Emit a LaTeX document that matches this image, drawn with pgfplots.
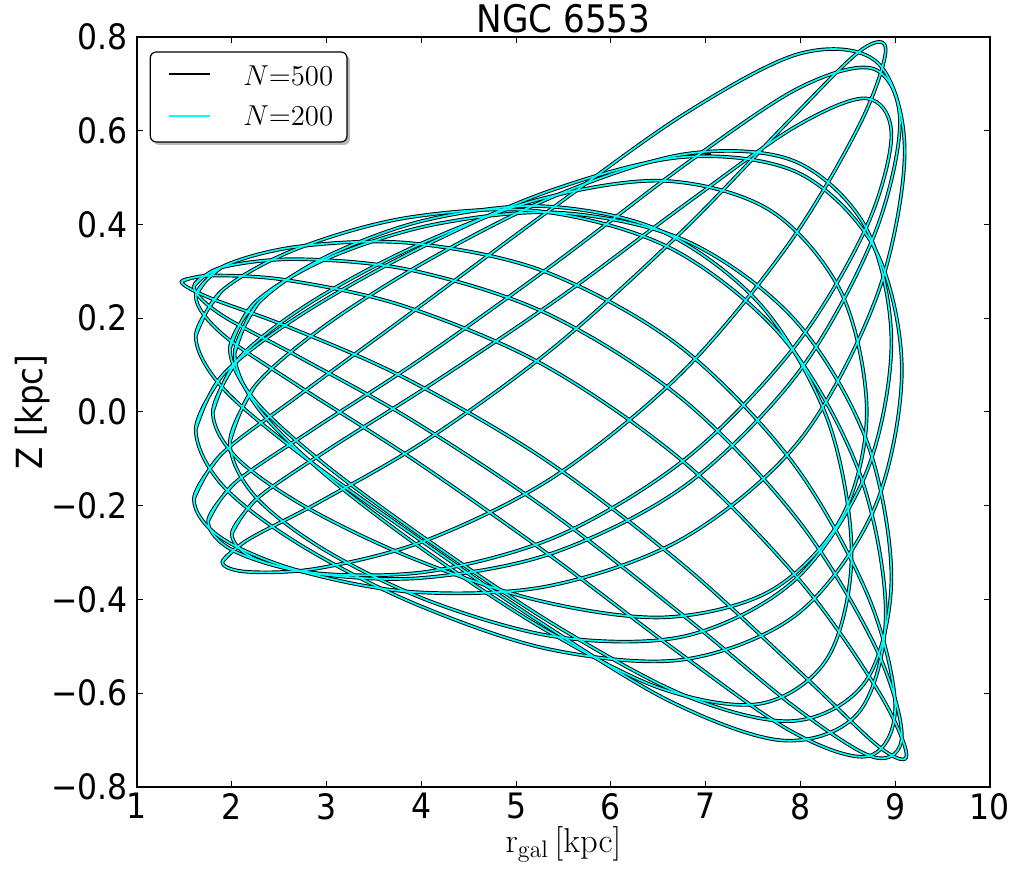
\documentclass[border=0pt]{standalone}
\usepackage{pgfplots}
\pgfplotsset{compat=1.18}
\usepackage{pgfplotstable}
\usepackage[no-math]{fontspec}
\setmainfont{DejaVu Sans Condensed}
\definecolor{orbcyan}{RGB}{0,255,255}
\begin{document}
\pgfplotstableread{
x y
1.470 0.278
1.761 0.291
2.590 0.281
3.831 0.225
5.295 0.100
6.759 -0.105
8.000 -0.361
8.829 -0.598
9.120 -0.732
8.829 -0.714
8.000 -0.556
6.759 -0.326
5.295 -0.100
3.831 0.072
2.590 0.182
1.761 0.244
1.470 0.278
1.761 0.291
}\loopA
\pgfplotstableread{
x y
1.600 0.268
1.884 0.308
2.694 0.326
3.906 0.302
5.335 0.209
6.764 0.026
7.976 -0.231
8.786 -0.499
9.070 -0.689
8.786 -0.737
7.976 -0.635
6.764 -0.434
5.335 -0.209
3.906 -0.018
2.694 0.119
1.884 0.208
1.600 0.268
1.884 0.308
}\loopB
\pgfplotstableread{
x y
1.620 0.247
1.901 0.310
2.701 0.353
3.898 0.360
5.310 0.299
6.722 0.141
7.919 -0.108
8.719 -0.395
9.000 -0.630
8.719 -0.734
7.919 -0.683
6.722 -0.514
5.310 -0.299
3.898 -0.099
2.701 0.056
1.901 0.166
1.620 0.247
1.901 0.310
}\loopC
\pgfplotstableread{
x y
1.620 0.162
1.897 0.259
2.686 0.348
3.867 0.415
5.260 0.428
6.653 0.347
7.834 0.154
8.623 -0.130
8.900 -0.428
8.623 -0.639
7.834 -0.701
6.653 -0.620
5.260 -0.449
3.867 -0.256
2.686 -0.084
1.897 0.053
1.620 0.162
1.897 0.259
}\loopD
\pgfplotstableread{
x y
1.980 0.135
2.246 0.234
3.002 0.327
4.134 0.400
5.470 0.425
6.806 0.364
7.938 0.197
8.694 -0.059
8.960 -0.352
8.694 -0.573
7.938 -0.659
6.806 -0.607
5.470 -0.462
4.134 -0.283
3.002 -0.115
2.246 0.024
1.980 0.135
2.246 0.234
}\loopE
\pgfplotstableread{
x y
2.030 0.125
2.278 0.232
2.983 0.330
4.039 0.409
5.285 0.439
6.531 0.386
7.587 0.227
8.292 -0.019
8.540 -0.301
8.292 -0.523
7.587 -0.622
6.531 -0.590
5.285 -0.462
4.039 -0.296
2.983 -0.133
2.278 0.008
2.030 0.125
2.278 0.232
}\loopF
\pgfplotstableread{
x y
1.620 -0.037
1.904 0.079
2.711 0.205
3.919 0.343
5.345 0.471
6.771 0.544
7.979 0.510
8.786 0.348
9.070 0.089
8.786 -0.203
7.979 -0.429
6.771 -0.528
5.345 -0.506
3.919 -0.408
2.711 -0.282
1.904 -0.157
1.620 -0.037
1.904 0.079
}\loopG
\pgfplotstableread{
x y
1.980 -0.064
2.246 0.056
3.002 0.187
4.134 0.331
5.470 0.466
6.806 0.551
7.938 0.535
8.694 0.392
8.960 0.148
8.694 -0.130
7.938 -0.359
6.806 -0.477
5.470 -0.481
4.134 -0.407
3.002 -0.297
2.246 -0.180
1.980 -0.064
2.246 0.056
}\loopH
\pgfplotstableread{
x y
1.800 0.000
2.063 0.112
2.811 0.231
3.930 0.353
5.250 0.454
6.570 0.493
7.689 0.429
8.437 0.252
8.700 0.000
8.437 -0.224
7.689 -0.381
6.570 -0.438
5.250 -0.403
3.930 -0.314
2.811 -0.206
2.063 -0.100
1.800 0.000
2.063 0.112
}\loopI
\pgfplotstableread{
x y
1.600 -0.186
1.885 -0.091
2.698 0.034
3.915 0.215
5.350 0.430
6.785 0.637
8.002 0.765
8.815 0.745
9.100 0.556
8.815 0.252
8.002 -0.058
6.785 -0.267
5.350 -0.371
3.915 -0.384
2.698 -0.338
1.885 -0.268
1.600 -0.186
1.885 -0.091
}\loopJ
\pgfplotstableread{
x y
1.750 -0.233
2.028 -0.152
2.819 -0.042
4.003 0.114
5.400 0.316
6.797 0.530
7.981 0.691
8.772 0.732
9.050 0.617
8.772 0.374
7.981 0.085
6.797 -0.155
5.400 -0.300
4.003 -0.354
2.819 -0.343
2.028 -0.297
1.750 -0.233
2.028 -0.152
}\loopK
\pgfplotstableread{
x y
2.000 -0.260
2.265 -0.185
3.019 -0.080
4.148 0.065
5.480 0.247
6.812 0.447
7.941 0.608
8.695 0.669
8.960 0.591
8.695 0.394
7.941 0.140
6.812 -0.096
5.480 -0.261
4.148 -0.338
3.019 -0.346
2.265 -0.315
2.000 -0.260
2.265 -0.185
}\loopL
\pgfplotstableread{
x y
1.900 -0.320
2.166 -0.273
2.925 -0.192
4.061 -0.059
5.400 0.138
6.739 0.383
7.875 0.620
8.634 0.771
8.900 0.773
8.634 0.617
7.875 0.358
6.739 0.082
5.400 -0.138
4.061 -0.273
2.925 -0.333
2.166 -0.341
1.900 -0.320
2.166 -0.273
}\loopM
\begin{tikzpicture}
\useasboundingbox (-68.5pt,-45pt) rectangle (438.5pt,393.5pt);
\begin{axis}[
  at={(0pt,0pt)}, anchor=south west,
  scale only axis, width=426.5pt, height=375pt,
  xmin=1, xmax=10, ymin=-0.8, ymax=0.8,
  xtick={1,2,3,4,5,6,7,8,9,10},
  xticklabels={1,2,3,4,5,6,7,8,9,10},
  ytick={-0.8,-0.6,-0.4,-0.2,0,0.2,0.4,0.6,0.8},
  yticklabels={−0.8,−0.6,−0.4,−0.2,0.0,0.2,0.4,0.6,0.8},
  tick align=inside, major tick length=3pt,
  tick style={black, line width=0.5pt},
  axis line style={line width=0.75pt},
  every tick label/.append style={font=\fontsize{17.5}{20}\selectfont, inner sep=0pt},
  xticklabel style={anchor=north, yshift=-3pt},
  yticklabel style={anchor=east, xshift=-4.5pt},
  title={NGC 6553},
  title style={font=\fontsize{19}{22}\selectfont, at={(axis description cs:0.5,1)}, anchor=base, yshift=-4pt, inner sep=0pt},
  xlabel={$\mathrm{r}_{\mathrm{gal}}\,[\mathrm{kpc}]$},
  xlabel style={font=\fontsize{17.5}{20}\selectfont, at={(axis description cs:0.5,-0.077)}, anchor=center, inner sep=0pt},
  ylabel={Z [kpc]},
  ylabel style={font=\fontsize{18}{21}\selectfont, at={(axis description cs:-0.122,0.5)}, anchor=center, inner sep=0pt},
  every axis plot/.append style={smooth, tension=0.55},
]
\addplot[black, line width=1.8pt] table {\loopA};
\addplot[black, line width=1.8pt] table {\loopB};
\addplot[black, line width=1.8pt] table {\loopC};
\addplot[black, line width=1.8pt] table {\loopD};
\addplot[black, line width=1.8pt] table {\loopE};
\addplot[black, line width=1.8pt] table {\loopF};
\addplot[black, line width=1.8pt] table {\loopG};
\addplot[black, line width=1.8pt] table {\loopH};
\addplot[black, line width=1.8pt] table {\loopI};
\addplot[black, line width=1.8pt] table {\loopJ};
\addplot[black, line width=1.8pt] table {\loopK};
\addplot[black, line width=1.8pt] table {\loopL};
\addplot[black, line width=1.8pt] table {\loopM};
\addplot[black, line width=1.8pt] coordinates {(6.96,0.557) (7.05,0.548)};
\addplot[orbcyan, line width=0.85pt] table {\loopA};
\addplot[orbcyan, line width=0.85pt] table {\loopB};
\addplot[orbcyan, line width=0.85pt] table {\loopC};
\addplot[orbcyan, line width=0.85pt] table {\loopD};
\addplot[orbcyan, line width=0.85pt] table {\loopE};
\addplot[orbcyan, line width=0.85pt] table {\loopF};
\addplot[orbcyan, line width=0.85pt] table {\loopG};
\addplot[orbcyan, line width=0.85pt] table {\loopH};
\addplot[orbcyan, line width=0.85pt] table {\loopI};
\addplot[orbcyan, line width=0.85pt] table {\loopJ};
\addplot[orbcyan, line width=0.85pt] table {\loopK};
\addplot[orbcyan, line width=0.85pt] table {\loopL};
\addplot[orbcyan, line width=0.85pt] table {\loopM};
\end{axis}
\fill[gray!55, rounded corners=3pt] (8.15pt,321pt) rectangle (106.5pt,366pt);
\draw[black, fill=white, rounded corners=3pt, line width=0.6pt] (6.65pt,322.5pt) rectangle (105pt,367.5pt);
\draw[black, line width=1.2pt] (15.85pt,356.6pt) -- (36.65pt,356.6pt);
\draw[orbcyan, line width=0.9pt] (15.85pt,335.5pt) -- (36.65pt,335.5pt);
\node[anchor=base west, inner sep=0pt, font=\fontsize{14.5}{17}\selectfont] at (53pt,350.8pt) {$N{=}500$};
\node[anchor=base west, inner sep=0pt, font=\fontsize{14.5}{17}\selectfont] at (53pt,330.8pt) {$N{=}200$};
\end{tikzpicture}
\end{document}
